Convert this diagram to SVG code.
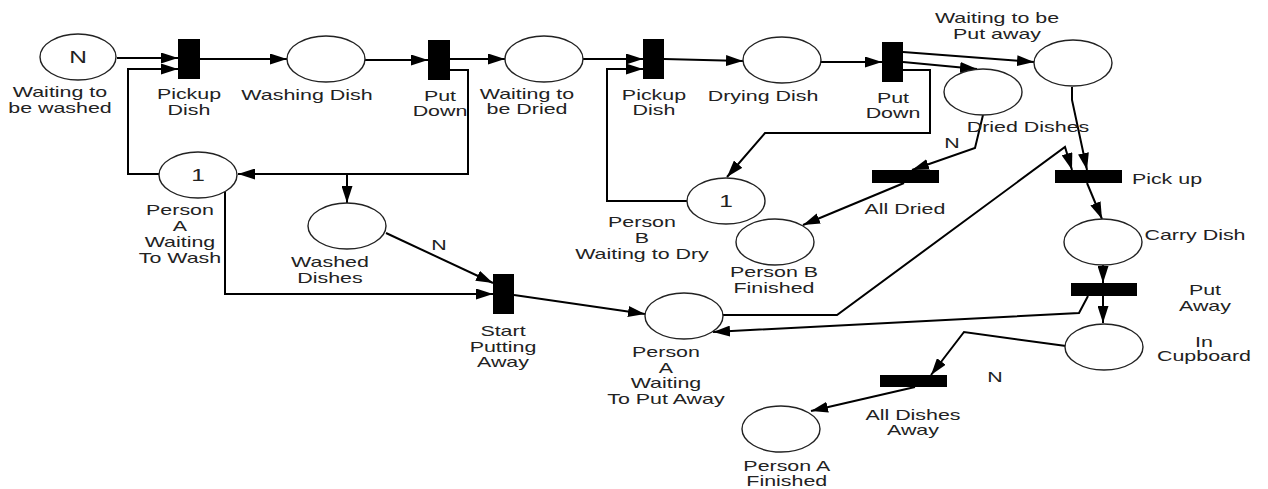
<svg xmlns="http://www.w3.org/2000/svg" width="1268" height="489" viewBox="0 0 1268 489">
  <style>
    .place { fill: #fff; stroke: #222; stroke-width: 1.4; }
    .trans { fill: #000; }
    .arc { fill: none; stroke: #000; stroke-width: 2; marker-end: url(#ah); }
    .lbl { font-family: "Liberation Sans", Arial, sans-serif; font-size: 14px; fill: #222; text-anchor: middle;
           transform-box: fill-box; transform-origin: center; transform: scaleX(1.53); }
    .tok { font-size: 16px; }
  </style>
  <defs>
    <marker id="ah" markerUnits="userSpaceOnUse" markerWidth="17" markerHeight="11" refX="17" refY="5.5" orient="auto">
      <path d="M0,0 L17,5.5 L0,11 z" fill="#000"/>
    </marker>
  </defs>

  <rect width="1268" height="489" fill="#fff"/>

  <!-- arcs -->
  <g id="connectors">
    <path class="arc" d="M117,58 L178,58"/>
    <path class="arc" d="M159,174 L128,174 L128,69 L178,69"/>
    <path class="arc" d="M200,59 L287,59"/>
    <path class="arc" d="M365,60 L428,60"/>
    <path class="arc" d="M450,59 L505,59"/>
    <path class="arc" d="M450,70 L468,70 L468,174 L238,174"/>
    <path class="arc" d="M347,174 L347,203"/>
    <path class="arc" d="M225,190 L225,294 L493,294"/>
    <path class="arc" d="M386,233 L493,283"/>
    <path class="arc" d="M514,295 L645,314"/>
    <path class="arc" d="M583,59 L643,59"/>
    <path class="arc" d="M687,201 L607,201 L607,69 L643,69"/>
    <path class="arc" d="M664,59 L743,61"/>
    <path class="arc" d="M821,62 L882,62"/>
    <path class="arc" d="M903,70 L930,70 L930,133 L765,133 L727,177"/>
    <path class="arc" d="M903,52 L1034,62"/>
    <path class="arc" d="M903,62 L977,69"/>
    <path class="arc" d="M983,115 L975,148 L912,170"/>
    <path class="arc" d="M904,183 L803,225"/>
    <path class="arc" d="M1072,87 L1072,100 L1087,170"/>
    <path class="arc" d="M722,315 L837,315 L1065,147 L1072,170"/>
    <path class="arc" d="M1087,183 L1102,219"/>
    <path class="arc" d="M1103,265 L1103,283"/>
    <path class="arc" d="M1103,296 L1103,323"/>
    <path class="arc" d="M1088,296 L1079,313 L713,332"/>
    <path class="arc" d="M1066,346 L964,332 L931,375"/>
    <path class="arc" d="M915,387 L811,411"/>
    <text class="lbl" x="439" y="250">N</text>
    <text class="lbl" x="952" y="148">N</text>
    <text class="lbl" x="995" y="382">N</text>
  </g>

  <!-- places -->
  <g id="waiting-to-be-washed">
    <ellipse class="place" cx="78" cy="57" rx="38" ry="23"/>
    <text class="lbl tok" x="78" y="63">N</text>
    <text class="lbl" x="60" y="97"><tspan x="60">Waiting to</tspan><tspan x="60" dy="16">be washed</tspan></text>
  </g>
  <g id="washing-dish">
    <ellipse class="place" cx="326" cy="59" rx="39" ry="23"/>
    <text class="lbl" x="307" y="100">Washing Dish</text>
  </g>
  <g id="waiting-to-be-dried">
    <ellipse class="place" cx="544" cy="59" rx="39" ry="23"/>
    <text class="lbl" x="527" y="99"><tspan x="527">Waiting to</tspan><tspan x="527" dy="15">be Dried</tspan></text>
  </g>
  <g id="person-a-waiting-to-wash">
    <ellipse class="place" cx="198" cy="175" rx="39" ry="23"/>
    <text class="lbl tok" x="198" y="181">1</text>
    <text class="lbl" x="180" y="215"><tspan x="180">Person</tspan><tspan x="180" dy="16">A</tspan><tspan x="180" dy="16">Waiting</tspan><tspan x="180" dy="16">To Wash</tspan></text>
  </g>
  <g id="washed-dishes">
    <ellipse class="place" cx="347" cy="226" rx="39" ry="23"/>
    <text class="lbl" x="330" y="267"><tspan x="330">Washed</tspan><tspan x="330" dy="16">Dishes</tspan></text>
  </g>
  <g id="drying-dish">
    <ellipse class="place" cx="782" cy="60" rx="39" ry="23"/>
    <text class="lbl" x="763" y="101">Drying Dish</text>
  </g>
  <g id="person-b-waiting-to-dry">
    <ellipse class="place" cx="726" cy="201" rx="39" ry="23"/>
    <text class="lbl tok" x="726" y="207">1</text>
    <text class="lbl" x="642" y="227"><tspan x="642">Person</tspan><tspan x="642" dy="16">B</tspan><tspan x="642" dy="16">Waiting to Dry</tspan></text>
  </g>
  <g id="person-b-finished">
    <ellipse class="place" cx="775" cy="242" rx="39" ry="23"/>
    <text class="lbl" x="774" y="277"><tspan x="774">Person B</tspan><tspan x="774" dy="16">Finished</tspan></text>
  </g>
  <g id="dried-dishes">
    <ellipse class="place" cx="983" cy="92" rx="39" ry="23"/>
    <text class="lbl" x="1028" y="132">Dried Dishes</text>
  </g>
  <g id="waiting-to-be-put-away">
    <ellipse class="place" cx="1073" cy="63" rx="39" ry="23"/>
    <text class="lbl" x="997" y="23"><tspan x="997">Waiting to be</tspan><tspan x="997" dy="16">Put away</tspan></text>
  </g>
  <g id="person-a-waiting-to-put-away">
    <ellipse class="place" cx="684" cy="316" rx="39" ry="23"/>
    <text class="lbl" x="666" y="357"><tspan x="666">Person</tspan><tspan x="666" dy="16">A</tspan><tspan x="666" dy="15.5">Waiting</tspan><tspan x="666" dy="15.5">To Put Away</tspan></text>
  </g>
  <g id="carry-dish">
    <ellipse class="place" cx="1103" cy="242" rx="39" ry="23"/>
    <text class="lbl" x="1195" y="240">Carry Dish</text>
  </g>
  <g id="in-cupboard">
    <ellipse class="place" cx="1104" cy="347" rx="39" ry="23"/>
    <text class="lbl" x="1204" y="347"><tspan x="1204">In</tspan><tspan x="1204" dy="14">Cupboard</tspan></text>
  </g>
  <g id="person-a-finished">
    <ellipse class="place" cx="781" cy="429" rx="39" ry="23"/>
    <text class="lbl" x="787" y="471"><tspan x="787">Person A</tspan><tspan x="787" dy="15">Finished</tspan></text>
  </g>

  <!-- transitions -->
  <g id="pickup-dish-wash">
    <rect class="trans" x="178" y="39" width="22" height="40"/>
    <text class="lbl" x="189" y="99"><tspan x="189">Pickup</tspan><tspan x="189" dy="16">Dish</tspan></text>
  </g>
  <g id="put-down-wash">
    <rect class="trans" x="428" y="40" width="22" height="40"/>
    <text class="lbl" x="440" y="101"><tspan x="440">Put</tspan><tspan x="440" dy="15">Down</tspan></text>
  </g>
  <g id="start-putting-away">
    <rect class="trans" x="493" y="274" width="21" height="40"/>
    <text class="lbl" x="503" y="336"><tspan x="503">Start</tspan><tspan x="503" dy="16">Putting</tspan><tspan x="503" dy="15">Away</tspan></text>
  </g>
  <g id="pickup-dish-dry">
    <rect class="trans" x="643" y="39" width="21" height="40"/>
    <text class="lbl" x="654" y="100"><tspan x="654">Pickup</tspan><tspan x="654" dy="15">Dish</tspan></text>
  </g>
  <g id="put-down-dry">
    <rect class="trans" x="882" y="42" width="21" height="40"/>
    <text class="lbl" x="893" y="103"><tspan x="893">Put</tspan><tspan x="893" dy="15">Down</tspan></text>
  </g>
  <g id="all-dried">
    <rect class="trans" x="872" y="170" width="67" height="13"/>
    <text class="lbl" x="905" y="214">All Dried</text>
  </g>
  <g id="pick-up">
    <rect class="trans" x="1055" y="170" width="67" height="13"/>
    <text class="lbl" x="1167" y="184">Pick up</text>
  </g>
  <g id="put-away">
    <rect class="trans" x="1071" y="283" width="66" height="13"/>
    <text class="lbl" x="1205" y="295"><tspan x="1205">Put</tspan><tspan x="1205" dy="16">Away</tspan></text>
  </g>
  <g id="all-dishes-away">
    <rect class="trans" x="880" y="375" width="67" height="12"/>
    <text class="lbl" x="913" y="420"><tspan x="913">All Dishes</tspan><tspan x="913" dy="15">Away</tspan></text>
  </g>
</svg>
